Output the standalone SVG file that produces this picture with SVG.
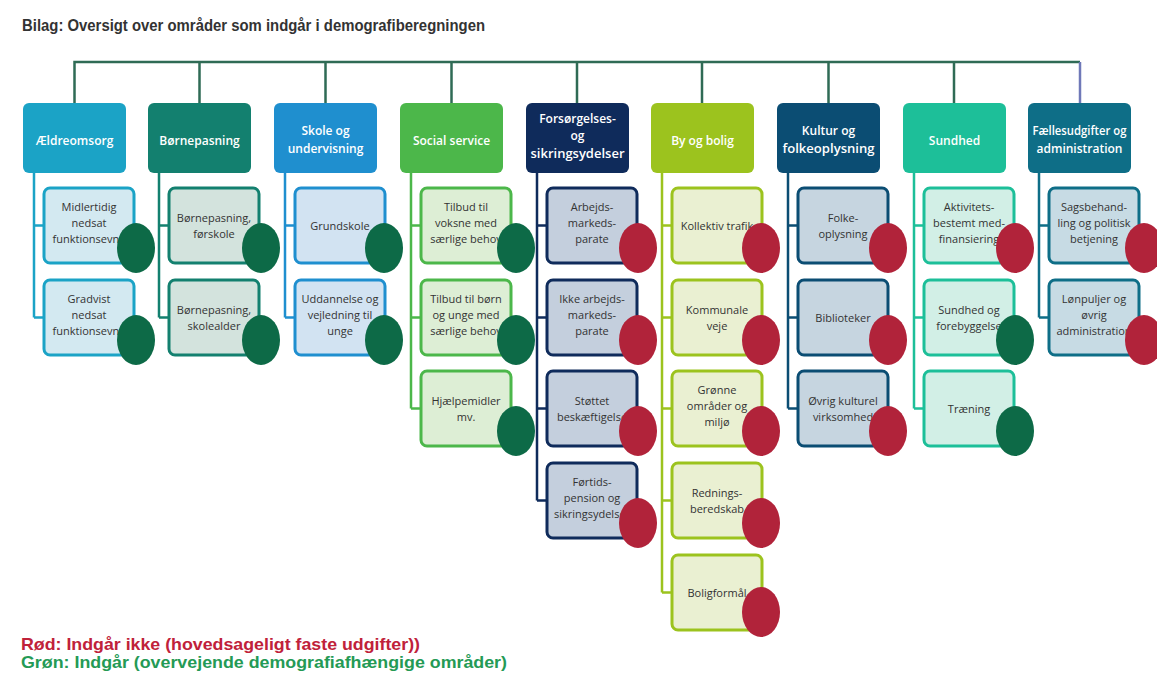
<svg xmlns="http://www.w3.org/2000/svg" width="1157" height="689" viewBox="0 0 1157 689">
<style>
.title{font-family:"Liberation Sans",Arial,sans-serif;font-weight:bold;font-size:16px;fill:#333}
.leg{font-family:"Liberation Sans",Arial,sans-serif;font-weight:bold;font-size:17px}
.ht{font-family:"Open Sans","Liberation Sans",sans-serif;font-weight:600;font-size:12px;fill:#fff;text-anchor:middle}
.ct{font-family:"Open Sans","Liberation Sans",sans-serif;font-size:11px;fill:#333;text-anchor:middle}
.g{fill:#0d6a47}
.r{fill:#b1233a}
.bus{stroke:#2f6b55;stroke-width:2.5;fill:none}
.cn{fill:none;stroke-width:2.5}
.cb{stroke-width:3}
</style>
<rect width="1157" height="689" fill="#fff"/>
<text class="title" x="22" y="31" textLength="463" lengthAdjust="spacingAndGlyphs">Bilag: Oversigt over områder som indgår i demografiberegningen</text>

<g id="connectors">
  <path class="bus" d="M74.5,103 V62 H1080 M199.5,62 V103 M325.5,62 V103 M451.5,62 V103 M577,62 V103 M702,62 V103 M828.5,62 V103 M954,62 V103"/>
  <path class="bus" d="M1080,62 V103" style="stroke:#6f78b8"/>
  <path class="cn" stroke="#1ba3c6" d="M34,173 V317.5 M34,225.5 H44 M34,317.5 H44"/>
  <path class="cn" stroke="#13806f" d="M159,173 V317.5 M159,225.5 H169 M159,317.5 H169"/>
  <path class="cn" stroke="#1f8fcf" d="M285,173 V317.5 M285,225.5 H295 M285,317.5 H295"/>
  <path class="cn" stroke="#4cb74a" d="M411,173 V408.5 M411,225.5 H421 M411,317.5 H421 M411,408.5 H421"/>
  <path class="cn" stroke="#0f2b5b" d="M537,173 V500.5 M537,225.5 H547 M537,317.5 H547 M537,408.5 H547 M537,500.5 H547"/>
  <path class="cn" stroke="#9cc31e" d="M662,173 V592.5 M662,225.5 H672 M662,317.5 H672 M662,408.5 H672 M662,500.5 H672 M662,592.5 H672"/>
  <path class="cn" stroke="#0b4d73" d="M788,173 V408.5 M788,225.5 H798 M788,317.5 H798 M788,408.5 H798"/>
  <path class="cn" stroke="#1dbf99" d="M914,173 V408.5 M914,225.5 H924 M914,317.5 H924 M914,408.5 H924"/>
  <path class="cn" stroke="#0e6e87" d="M1039,173 V317.5 M1039,225.5 H1049 M1039,317.5 H1049"/>
</g>

<!-- Column 1 -->
<g id="h-aeldreomsorg"><rect x="23" y="103" width="103" height="70" rx="6" fill="#1ba3c6"/><text class="ht" x="74.5" y="145">Ældreomsorg</text></g>
<g id="c1-1"><rect class="cb" x="44" y="188" width="90" height="75" rx="6" fill="#d3e9f1" stroke="#1ba3c6"/><text class="ct" x="89"><tspan x="89" y="210.5">Midlertidig</tspan><tspan x="89" y="226.5">nedsat</tspan><tspan x="89" y="242.5">funktionsevne</tspan></text><ellipse class="g" cx="136" cy="248" rx="19" ry="25"/></g>
<g id="c1-2"><rect class="cb" x="44" y="280" width="90" height="75" rx="6" fill="#d3e9f1" stroke="#1ba3c6"/><text class="ct"><tspan x="89" y="302.5">Gradvist</tspan><tspan x="89" y="318.5">nedsat</tspan><tspan x="89" y="334.5">funktionsevne</tspan></text><ellipse class="g" cx="136" cy="340" rx="19" ry="25"/></g>

<!-- Column 2 -->
<g id="h-boernepasning"><rect x="148" y="103" width="103" height="70" rx="6" fill="#13806f"/><text class="ht" x="199.5" y="145">Børnepasning</text></g>
<g id="c2-1"><rect class="cb" x="169" y="188" width="90" height="75" rx="6" fill="#d3e3dd" stroke="#13806f"/><text class="ct"><tspan x="214" y="221.5">Børnepasning,</tspan><tspan x="214" y="237.5">førskole</tspan></text><ellipse class="g" cx="261" cy="248" rx="19" ry="25"/></g>
<g id="c2-2"><rect class="cb" x="169" y="280" width="90" height="75" rx="6" fill="#d3e3dd" stroke="#13806f"/><text class="ct"><tspan x="214" y="313.5">Børnepasning,</tspan><tspan x="214" y="329.5">skolealder</tspan></text><ellipse class="g" cx="261" cy="340" rx="19" ry="25"/></g>

<!-- Column 3 -->
<g id="h-skole"><rect x="274" y="103" width="103" height="70" rx="6" fill="#1f8fcf"/><text class="ht"><tspan x="325.5" y="135">Skole og</tspan><tspan x="325.5" y="153">undervisning</tspan></text></g>
<g id="c3-1"><rect class="cb" x="295" y="188" width="90" height="75" rx="6" fill="#d2e3f2" stroke="#1f8fcf"/><text class="ct" x="340" y="229.5">Grundskole</text><ellipse class="g" cx="384" cy="248" rx="19" ry="25"/></g>
<g id="c3-2"><rect class="cb" x="295" y="280" width="90" height="75" rx="6" fill="#d2e3f2" stroke="#1f8fcf"/><text class="ct"><tspan x="340" y="302.5">Uddannelse og</tspan><tspan x="340" y="318.5">vejledning til</tspan><tspan x="340" y="334.5">unge</tspan></text><ellipse class="g" cx="384" cy="340" rx="19" ry="25"/></g>

<!-- Column 4 -->
<g id="h-social"><rect x="400" y="103" width="103" height="70" rx="6" fill="#4cb74a"/><text class="ht" x="451.5" y="145">Social service</text></g>
<g id="c4-1"><rect class="cb" x="421" y="188" width="90" height="75" rx="6" fill="#ddeed5" stroke="#4cb74a"/><text class="ct"><tspan x="466" y="210.5">Tilbud til</tspan><tspan x="466" y="226.5">voksne med</tspan><tspan x="466" y="242.5">særlige behov</tspan></text><ellipse class="g" cx="516" cy="248" rx="19" ry="25"/></g>
<g id="c4-2"><rect class="cb" x="421" y="280" width="90" height="75" rx="6" fill="#ddeed5" stroke="#4cb74a"/><text class="ct"><tspan x="466" y="302.5">Tilbud til børn</tspan><tspan x="466" y="318.5">og unge med</tspan><tspan x="466" y="334.5">særlige behov</tspan></text><ellipse class="g" cx="516" cy="340" rx="19" ry="25"/></g>
<g id="c4-3"><rect class="cb" x="421" y="371" width="90" height="75" rx="6" fill="#ddeed5" stroke="#4cb74a"/><text class="ct"><tspan x="466" y="404.5">Hjælpemidler</tspan><tspan x="466" y="420.5">mv.</tspan></text><ellipse class="g" cx="516" cy="431" rx="19" ry="25"/></g>

<!-- Column 5 -->
<g id="h-forsoergelse"><rect x="526" y="103" width="103" height="70" rx="6" fill="#0f2b5b"/><text class="ht"><tspan x="577.5" y="123">Forsørgelses-</tspan><tspan x="577.5" y="140">og</tspan><tspan x="577.5" y="158" textLength="94" lengthAdjust="spacingAndGlyphs">sikringsydelser</tspan></text></g>
<g id="c5-1"><rect class="cb" x="547" y="188" width="90" height="75" rx="6" fill="#c4cfdd" stroke="#0f2b5b"/><text class="ct"><tspan x="592" y="210.5">Arbejds-</tspan><tspan x="592" y="226.5">markeds-</tspan><tspan x="592" y="242.5">parate</tspan></text><ellipse class="r" cx="638" cy="248" rx="19" ry="25"/></g>
<g id="c5-2"><rect class="cb" x="547" y="280" width="90" height="75" rx="6" fill="#c4cfdd" stroke="#0f2b5b"/><text class="ct"><tspan x="592" y="302.5">Ikke arbejds-</tspan><tspan x="592" y="318.5">markeds-</tspan><tspan x="592" y="334.5">parate</tspan></text><ellipse class="r" cx="638" cy="340" rx="19" ry="25"/></g>
<g id="c5-3"><rect class="cb" x="547" y="371" width="90" height="75" rx="6" fill="#c4cfdd" stroke="#0f2b5b"/><text class="ct"><tspan x="592" y="404.5">Støttet</tspan><tspan x="592" y="420.5">beskæftigelse</tspan></text><ellipse class="r" cx="638" cy="431" rx="19" ry="25"/></g>
<g id="c5-4"><rect class="cb" x="547" y="463" width="90" height="75" rx="6" fill="#c4cfdd" stroke="#0f2b5b"/><text class="ct"><tspan x="592" y="485.5">Førtids-</tspan><tspan x="592" y="501.5">pension og</tspan><tspan x="592" y="517.5">sikringsydelser</tspan></text><ellipse class="r" cx="638" cy="523" rx="19" ry="25"/></g>

<!-- Column 6 -->
<g id="h-byogbolig"><rect x="651" y="103" width="103" height="70" rx="6" fill="#9cc31e"/><text class="ht" x="702.5" y="145">By og bolig</text></g>
<g id="c6-1"><rect class="cb" x="672" y="188" width="90" height="75" rx="6" fill="#eaf0d2" stroke="#9cc31e"/><text class="ct" x="717" y="229.5">Kollektiv trafik</text><ellipse class="r" cx="761" cy="248" rx="19" ry="25"/></g>
<g id="c6-2"><rect class="cb" x="672" y="280" width="90" height="75" rx="6" fill="#eaf0d2" stroke="#9cc31e"/><text class="ct"><tspan x="717" y="313.5">Kommunale</tspan><tspan x="717" y="329.5">veje</tspan></text><ellipse class="r" cx="761" cy="340" rx="19" ry="25"/></g>
<g id="c6-3"><rect class="cb" x="672" y="371" width="90" height="75" rx="6" fill="#eaf0d2" stroke="#9cc31e"/><text class="ct"><tspan x="717" y="393.5">Grønne</tspan><tspan x="717" y="409.5">områder og</tspan><tspan x="717" y="425.5">miljø</tspan></text><ellipse class="r" cx="761" cy="431" rx="19" ry="25"/></g>
<g id="c6-4"><rect class="cb" x="672" y="463" width="90" height="75" rx="6" fill="#eaf0d2" stroke="#9cc31e"/><text class="ct"><tspan x="717" y="496.5">Rednings-</tspan><tspan x="717" y="512.5">beredskab</tspan></text><ellipse class="r" cx="761" cy="523" rx="19" ry="25"/></g>
<g id="c6-5"><rect class="cb" x="672" y="555" width="90" height="75" rx="6" fill="#eaf0d2" stroke="#9cc31e"/><text class="ct" x="717" y="596.5">Boligformål</text><ellipse class="r" cx="761" cy="612" rx="19" ry="25"/></g>

<!-- Column 7 -->
<g id="h-kultur"><rect x="777" y="103" width="103" height="70" rx="6" fill="#0b4d73"/><text class="ht"><tspan x="828.5" y="135">Kultur og</tspan><tspan x="828.5" y="153" textLength="92" lengthAdjust="spacingAndGlyphs">folkeoplysning</tspan></text></g>
<g id="c7-1"><rect class="cb" x="798" y="188" width="90" height="75" rx="6" fill="#c6d5e0" stroke="#0b4d73"/><text class="ct"><tspan x="843" y="221.5">Folke-</tspan><tspan x="843" y="237.5">oplysning</tspan></text><ellipse class="r" cx="888" cy="248" rx="19" ry="25"/></g>
<g id="c7-2"><rect class="cb" x="798" y="280" width="90" height="75" rx="6" fill="#c6d5e0" stroke="#0b4d73"/><text class="ct" x="843" y="321.5">Biblioteker</text><ellipse class="r" cx="888" cy="340" rx="19" ry="25"/></g>
<g id="c7-3"><rect class="cb" x="798" y="371" width="90" height="75" rx="6" fill="#c6d5e0" stroke="#0b4d73"/><text class="ct"><tspan x="843" y="404.5">Øvrig kulturel</tspan><tspan x="843" y="420.5">virksomhed</tspan></text><ellipse class="r" cx="888" cy="431" rx="19" ry="25"/></g>

<!-- Column 8 -->
<g id="h-sundhed"><rect x="903" y="103" width="103" height="70" rx="6" fill="#1dbf99"/><text class="ht" x="954.5" y="145">Sundhed</text></g>
<g id="c8-1"><rect class="cb" x="924" y="188" width="90" height="75" rx="6" fill="#d2efe6" stroke="#1dbf99"/><text class="ct"><tspan x="969" y="210.5">Aktivitets-</tspan><tspan x="969" y="226.5">bestemt med-</tspan><tspan x="969" y="242.5">finansiering</tspan></text><ellipse class="r" cx="1015" cy="248" rx="19" ry="25"/></g>
<g id="c8-2"><rect class="cb" x="924" y="280" width="90" height="75" rx="6" fill="#d2efe6" stroke="#1dbf99"/><text class="ct"><tspan x="969" y="313.5">Sundhed og</tspan><tspan x="969" y="329.5">forebyggelse</tspan></text><ellipse class="g" cx="1015" cy="340" rx="19" ry="25"/></g>
<g id="c8-3"><rect class="cb" x="924" y="371" width="90" height="75" rx="6" fill="#d2efe6" stroke="#1dbf99"/><text class="ct" x="969" y="412.5">Træning</text><ellipse class="g" cx="1015" cy="431" rx="19" ry="25"/></g>

<!-- Column 9 -->
<g id="h-faelles"><rect x="1028" y="103" width="103" height="70" rx="6" fill="#0e6e87"/><text class="ht"><tspan x="1079.5" y="135" textLength="94" lengthAdjust="spacingAndGlyphs">Fællesudgifter og</tspan><tspan x="1079.5" y="153" textLength="86" lengthAdjust="spacingAndGlyphs">administration</tspan></text></g>
<g id="c9-1"><rect class="cb" x="1049" y="188" width="90" height="75" rx="6" fill="#c7dbe4" stroke="#0e6e87"/><text class="ct"><tspan x="1094" y="210.5">Sagsbehand-</tspan><tspan x="1094" y="226.5">ling og politisk</tspan><tspan x="1094" y="242.5">betjening</tspan></text><ellipse class="r" cx="1144" cy="248" rx="19" ry="25"/></g>
<g id="c9-2"><rect class="cb" x="1049" y="280" width="90" height="75" rx="6" fill="#c7dbe4" stroke="#0e6e87"/><text class="ct"><tspan x="1094" y="302.5">Lønpuljer og</tspan><tspan x="1094" y="318.5">øvrig</tspan><tspan x="1094" y="334.5">administration</tspan></text><ellipse class="r" cx="1144" cy="340" rx="19" ry="25"/></g>

<g id="legend">
<text class="leg" x="21" y="650" fill="#c0213a" textLength="399" lengthAdjust="spacingAndGlyphs">Rød: Indgår ikke (hovedsageligt faste udgifter))</text>
<text class="leg" x="21" y="668" fill="#249a55" textLength="486" lengthAdjust="spacingAndGlyphs">Grøn: Indgår (overvejende demografiafhængige områder)</text>
</g>
</svg>
